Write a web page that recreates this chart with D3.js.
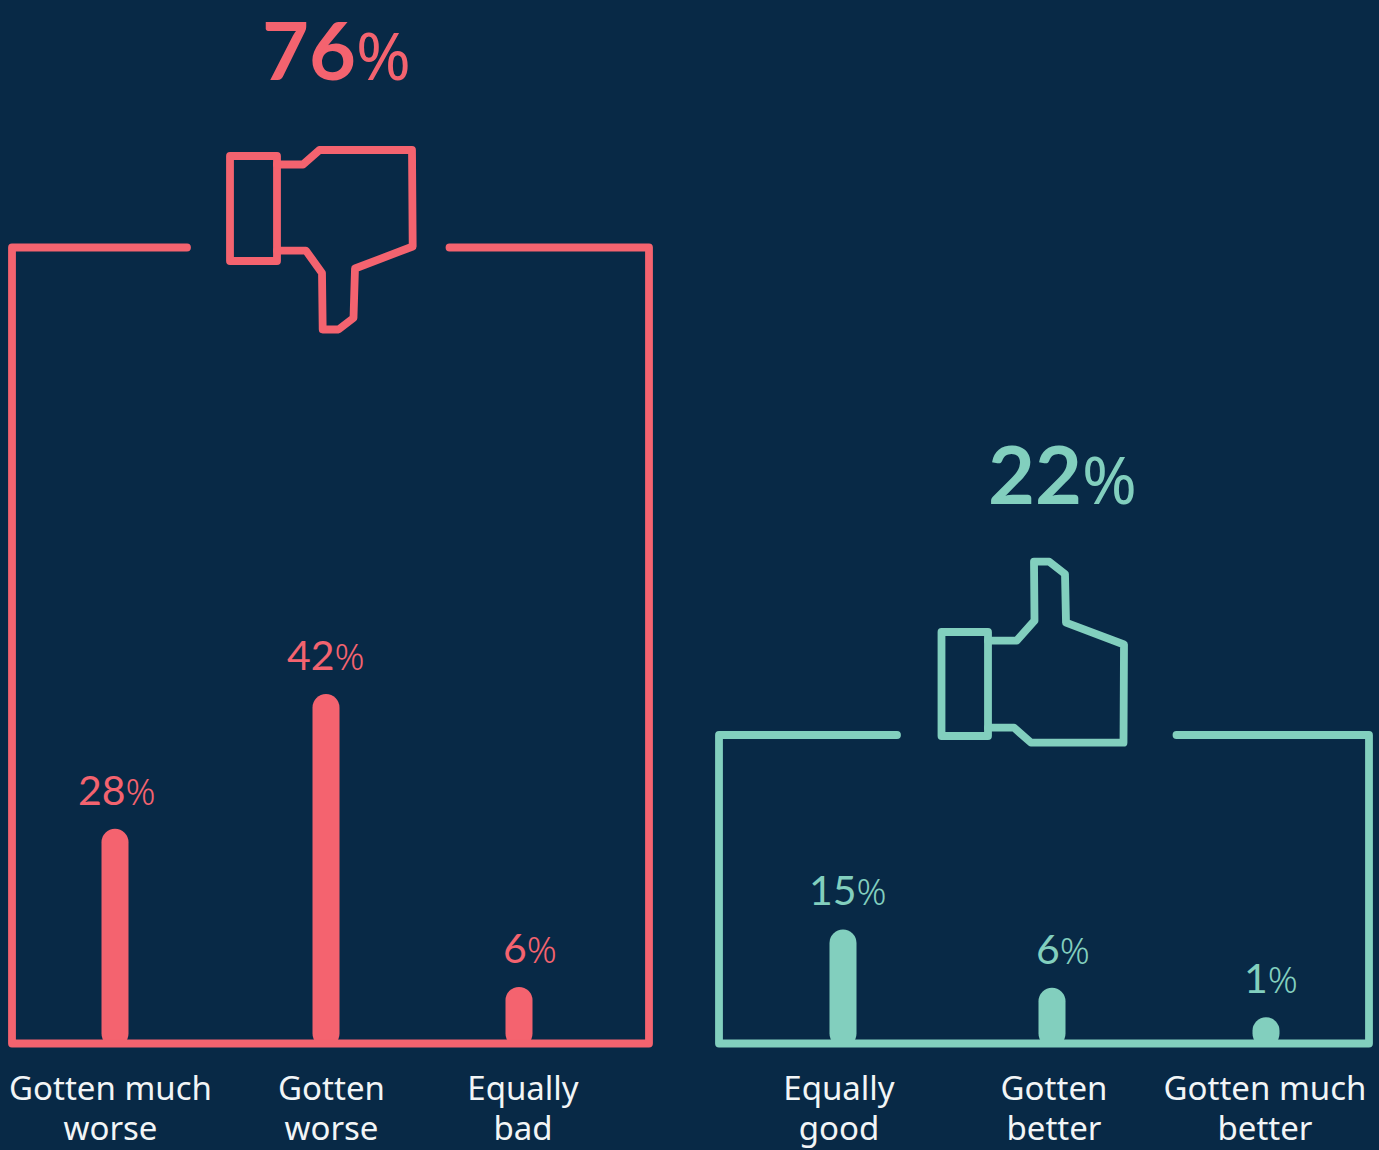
<!DOCTYPE html>
<html><head><meta charset="utf-8">
<script src="https://cdnjs.cloudflare.com/ajax/libs/d3/7.8.5/d3.min.js"></script>
<style>html,body{margin:0;padding:0;background:#082946;overflow:hidden}svg{display:block}</style>
</head><body><svg id="c" width="1379" height="1150"></svg>
<script>
const BG="#082946", RED="#f4636f", TEAL="#82cfbe", WHITE="#f2f5f6";
const FONT="'Noto Sans',sans-serif", FONT2="Lato,sans-serif";

// values as labelled
const negCats=[["Gotten much","worse"],["Gotten","worse"],["Equally","bad"]];
const negLabels=[28,42,6];
const negTotal=76;
const posCats=[["Equally","good"],["Gotten","better"],["Gotten much","better"]];
const posLabels=[15,6,1];
const posTotal=22;
// bar lengths as drawn in the picture (they are not strictly proportional to the labels)
const negDrawn=[25.8,42,6.8];
const posDrawn=[13.7,6.7,3.15];

const svg=d3.select("#c");
svg.append("rect").attr("width",1379).attr("height",1150).attr("fill",BG);

const y=d3.scaleLinear().domain([0,42]).range([1043.5,694]);

const thumbCuff=[[230,156],[277,156],[277,261],[230,261]];
const thumbDown=[[277,164.5],[303,164.5],[319.5,150],[412,150],[412.7,246.5],[355,268.5],[353.5,318],[338.5,329.5],[322.7,329.5],[322,273],[306,250.7],[277,250.7]];
const thumbUpCuff=[[941.5,632],[988,632],[988,736],[941.5,736]];
const thumbUp=[[988,640.7],[1016.7,640.7],[1034.5,620.7],[1034,561.7],[1049.3,561.7],[1065,574],[1066,622.7],[1124,644.5],[1123.5,742.7],[1031,742.7],[1014,727.7],[988,727.7]];

const line=d3.line();

function panel(o){
  const g=svg.append("g");
  const sw=7.8;
  // bars
  g.selectAll("rect.bar").data(o.drawn).join("rect").attr("class","bar")
    .attr("x",(d,i)=>o.barX[i]-13.5).attr("width",27)
    .attr("y",d=>y(d)).attr("height",d=>y(0)+3.5-y(d)).attr("rx",13.5).attr("fill",o.color);
  // frame
  g.append("path").attr("d",line([[o.gap[0],o.top],[o.left,o.top],[o.left,y(0)],[o.right,y(0)],[o.right,o.top],[o.gap[1],o.top]]))
    .attr("fill","none").attr("stroke",o.color).attr("stroke-width",sw).attr("stroke-linejoin","round").attr("stroke-linecap","round");
  // icon
  [[o.cuff,true],[o.hand,false]].forEach(([p,closed])=>{
    g.append("path").attr("d",line(p)+(closed?"Z":"")).attr("fill","none").attr("stroke",o.color)
     .attr("stroke-width",sw).attr("stroke-linejoin","round").attr("stroke-linecap","round");
  });
  // total
  const t=g.append("text").attr("x",o.totalX).attr("y",o.totalY).attr("fill",o.color).attr("font-family",FONT2);
  t.append("tspan").attr("font-size",81).attr("font-weight",700).text(o.total);
  t.append("tspan").attr("font-size",66).attr("font-weight",400).attr("font-family",FONT).text("%");
  // value labels
  o.labels.forEach((v,i)=>{
    const tt=g.append("text").attr("x",o.labelX[i]).attr("y",y(o.drawn[i])-24).attr("fill",o.color).attr("font-family",FONT2);
    tt.append("tspan").attr("font-size",41).text(v);
    tt.append("tspan").attr("font-size",37).attr("font-weight",300).attr("font-family",FONT).text("%");
  });
  // categories
  g.selectAll("text.cat").data(o.cats).join("text").attr("class","cat")
    .attr("fill",WHITE).attr("font-family",FONT).attr("font-size",33).attr("text-anchor","middle")
    .each(function(c,i){
      d3.select(this).selectAll("tspan").data(c).join("tspan")
        .attr("x",o.catX[i]).attr("y",(s,j)=>1100+j*40).text(s=>s);
    });
}

panel({color:RED,cats:negCats,labels:negLabels,drawn:negDrawn,total:negTotal,barX:[115,326,519],
  labelX:[78,287,503],catX:[110.5,331.5,523],left:12,right:649,top:247.5,gap:[187,449.5],
  cuff:thumbCuff,hand:thumbDown,totalX:262,totalY:80});
panel({color:TEAL,cats:posCats,labels:posLabels,drawn:posDrawn,total:posTotal,barX:[843,1052,1266],
  labelX:[809,1036,1244],catX:[839,1054,1265],left:719,right:1369,top:735,gap:[897,1176.5],
  cuff:thumbUpCuff,hand:thumbUp,totalX:988,totalY:504});
</script></body></html>
